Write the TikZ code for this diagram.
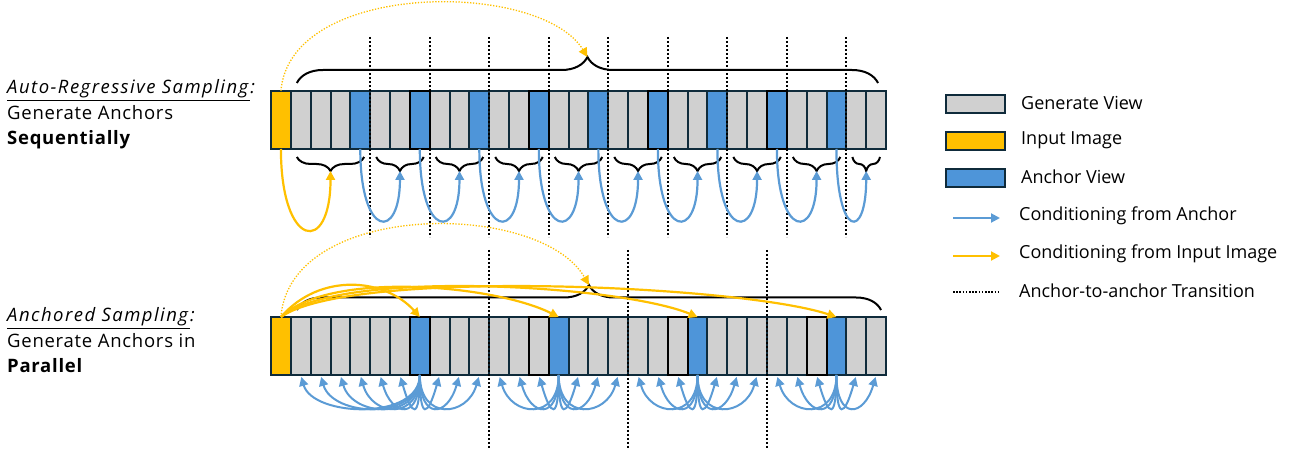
\documentclass[tikz,border=0pt]{standalone}
\usepackage{fontspec}
\setmainfont{Open Sans}
\newfontfamily\captionfont[LetterSpace=4]{Open Sans}
\newfontfamily\headfont[LetterSpace=8]{Open Sans}
\usetikzlibrary{decorations.pathreplacing,arrows.meta,calc}
\definecolor{cellgrey}{HTML}{D0D0D0}
\definecolor{inyellow}{HTML}{FFC000}
\definecolor{anchorblue}{HTML}{4E95D9}
\definecolor{cellline}{HTML}{0F2B3B}
\definecolor{condblue}{HTML}{5B9BD5}
\definecolor{condyellow}{HTML}{FFC000}
\begin{document}
\begin{tikzpicture}[x=1pt,y=-1pt,
  cell/.style={draw=cellline, line width=2pt, minimum width=19.84pt, minimum height=58pt, inner sep=0pt, outer sep=0pt},
  legbox/.style={draw=cellline, line width=2.4pt, minimum width=59pt, minimum height=18pt, inner sep=0pt},
  txt/.style={font=\captionfont\fontsize{18.5}{22}\selectfont, inner sep=0pt, anchor=base west},
  headtxt/.style={font=\headfont\fontsize{18.5}{22}\selectfont, inner sep=0pt, anchor=base west},
  legtext/.style={font=\fontsize{18}{21}\selectfont, inner sep=0pt, anchor=west},
  bigbrace/.style={decorate, decoration={brace, amplitude=26pt}, line width=2pt},
  smallbrace/.style={decorate, decoration={brace, amplitude=14pt}, line width=2pt},
  transition/.style={line width=2pt, dash pattern=on 2pt off 2pt},
  bcond/.style={draw=condblue, line width=2.2pt, -{Triangle[length=9pt,width=9pt]}},
  ycond/.style={draw=condyellow, line width=2.2pt, -{Triangle[length=9pt,width=9pt]}},
  ydot/.style={draw=condyellow, line width=1.3pt, dash pattern=on 1.3pt off 1.6pt, -{Triangle[length=9pt,width=9pt]}},
  fanarrow/.style={draw=condblue, line width=2pt, shorten >=2pt, -{Triangle[length=9pt,width=9pt]}}
]
\useasboundingbox (0,0) rectangle (1294,454);

% ---------- left captions ----------
\node[headtxt] (ar1) at (7,94) {\underline{\textit{Auto-Regressive Sampling}}\textit{:}};
\node[txt] (ar2) at (7,119.5) {Generate Anchors};
\node[txt] (ar3) at (7,145) {\textbf{Sequentially}};
\node[headtxt] (an1) at (7,322) {\underline{\textit{Anchored Sampling}}\textit{:}};
\node[txt] (an2) at (7,347.5) {Generate Anchors in};
\node[txt] (an3) at (7,373) {\textbf{Parallel}};

% ---------- auto-regressive row ----------
\foreach \i in {0,...,30}{
  \pgfmathtruncatemacro\r{mod(\i,3)}
  \def\f{cellgrey}
  \ifnum\i=0 \def\f{inyellow}\fi
  \ifnum\i>3 \ifnum\r=1 \def\f{anchorblue}\fi\fi
  \node[cell, fill=\f] (t\i) at ({271+(\i+0.5)*19.84},120) {};
}
\foreach \i in {7,13,19,25}
  \draw[line width=2pt] (t\i.south west) rectangle (t\i.north east);

% transitions between anchors
\foreach \k in {4,7,...,28}
  \draw[transition] (t\k.north east) ++(0,-54) -- ++(0,200);

% overall brace and the dotted link from the input image
\path (t1.north west) ++(6,-8) coordinate (tbl);
\path (t30.north east) ++(-8,-8) coordinate (tbr);
\draw[bigbrace] (tbl) -- (tbr);
\coordinate (bigT) at ($(tbl)!0.5!(tbr)+(0,-26)$);
\draw[ydot] (t0.north) .. controls (290,-20) and (540,-20) .. (bigT);

% group braces under the row
\foreach \a/\b/\n in {1/4/1,5/7/2,8/10/3,11/13/4,14/16/5,17/19/6,20/22/7,23/25/8,26/28/9,29/30/10}{
  \path (t\a.south west) ++(6,8) coordinate (gl\n);
  \path (t\b.south east) ++(-6,8) coordinate (gr\n);
  \draw[smallbrace] (gr\n) -- (gl\n);
  \coordinate (tip\n) at ($(gl\n)!0.5!(gr\n)+(0,14)$);
}
\draw[ycond] (t0.south) .. controls +(0,100) and +(0,85) .. (tip1);
\foreach \k/\n in {4/2,7/3,10/4,13/5,16/6,19/7,22/8,25/9,28/10}
  \draw[bcond] (t\k.south) .. controls +(0,90) and +(0,70) .. (tip\n);

% ---------- anchored row ----------
\foreach \i in {0,...,30}{
  \pgfmathtruncatemacro\r{mod(\i,7)}
  \def\f{cellgrey}
  \ifnum\i=0 \def\f{inyellow}\fi
  \ifnum\i>0 \ifnum\r=0 \def\f{anchorblue}\fi\fi
  \node[cell, fill=\f] (b\i) at ({271+(\i+0.5)*19.84},346) {};
}
\foreach \i in {7,13,20,27}
  \draw[line width=2pt] (b\i.south west) rectangle (b\i.north east);

\foreach \k in {10,17,24}
  \draw[transition] (b\k.north east) ++(0,-67) -- ++(0,198);

\path (b1.north west) ++(6,-7) coordinate (bbl);
\path (b30.north east) ++(-5,-7) coordinate (bbr);
\draw[bigbrace, decoration={amplitude=25pt}] (bbl) -- (bbr);
\coordinate (bigB) at ($(bbl)!0.5!(bbr)+(0,-25)$);
\draw[ydot] (b0.north) .. controls (290,200) and (540,200) .. (bigB);

% input image conditions every anchor directly
\draw[ycond] (b0.north) .. controls (320,272) and (385,278) .. (b7.north);
\draw[ycond] (b0.north) .. controls (330,270) and (495,285) .. (b14.north);
\draw[ycond] (b0.north) .. controls (340,268) and (620,285) .. (b21.north);
\draw[ycond] (b0.north) .. controls (350,268) and (740,285) .. (b28.north);

% each anchor conditions the views of its own segment
\foreach \a/\t in {7/1,7/2,7/3,7/4,7/5,7/6,14/11,14/12,14/13,21/18,21/19,21/20,28/25,28/26,28/27}
  \draw[fanarrow] (b\a.south) .. controls +(0,46) and +(12,42) .. (b\t.south);
\foreach \a/\t in {7/8,7/9,7/10,14/15,14/16,14/17,21/22,21/23,21/24,28/29,28/30}
  \draw[fanarrow] (b\a.south) .. controls +(0,46) and +(-12,42) .. (b\t.south);

% ---------- legend ----------
\node[legbox, fill=cellgrey] (lgv) at (975.5,104) {};
\node[legtext] (lgvt) at (1021,103) {Generate View};
\node[legbox, fill=inyellow] (lin) at (975.5,141) {};
\node[legtext] (lint) at (1021,140) {Input Image};
\node[legbox, fill=anchorblue] (lan) at (975.5,178) {};
\node[legtext] (lant) at (1021,177) {Anchor View};
\coordinate (lba) at (953,218);
\coordinate (lbb) at (1000,218);
\draw[bcond, line width=2pt] (lba) -- (lbb);
\node[legtext] (lbt) at (1019,216) {Conditioning from Anchor};
\coordinate (lya) at (953,256);
\coordinate (lyb) at (1000,256);
\draw[ycond, line width=2pt] (lya) -- (lyb);
\node[legtext] (lyt) at (1019,254) {Conditioning from Input Image};
\coordinate (lda) at (953,292);
\coordinate (ldb) at (1000,292);
\draw[line width=1.6pt, dash pattern=on 1.6pt off 1.6pt] (lda) -- (ldb);
\node[legtext] (ldt) at (1019,291) {Anchor-to-anchor Transition};
\end{tikzpicture}
\end{document}
